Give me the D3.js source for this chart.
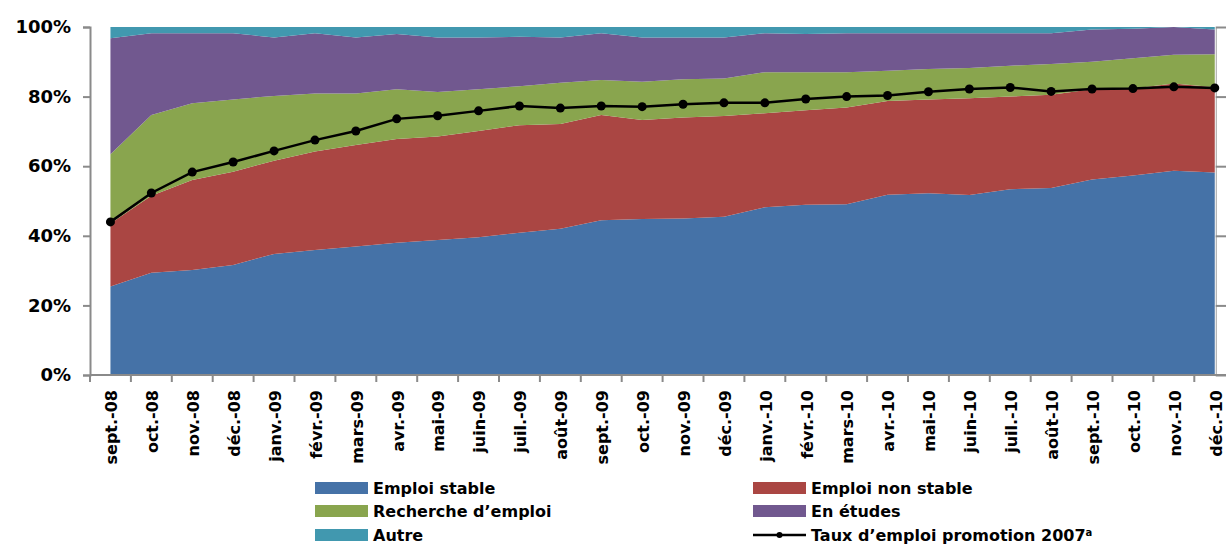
<!DOCTYPE html>
<html>
<head>
<meta charset="utf-8">
<script src="https://cdn.jsdelivr.net/npm/d3@7"></script>
<style>
  body { margin: 0; background: #fff; }
  text { font-family: "DejaVu Sans", sans-serif; font-weight: bold; fill: #000; }
</style>
</head>
<body>
<div id="chart"></div>
<script>
// mois (catégories)
var mois = ["sept.-08","oct.-08","nov.-08","déc.-08",
  "janv.-09","févr.-09","mars-09","avr.-09","mai-09","juin-09","juil.-09","août-09","sept.-09","oct.-09","nov.-09","déc.-09",
  "janv.-10","févr.-10","mars-10","avr.-10","mai-10","juin-10","juil.-10","août-10","sept.-10","oct.-10","nov.-10","déc.-10"];

// séries empilées (%)
var emploiStable = [25.4,29.4,30.2,31.6,34.8,35.9,36.9,38.0,38.8,39.6,40.9,42.0,44.5,44.8,45.0,45.5,48.2,48.9,49.1,51.8,52.2,51.7,53.4,53.7,56.2,57.3,58.7,58.2];
var emploiNonStable = [18.1,22.1,25.8,26.8,26.8,28.3,29.2,29.8,29.7,30.5,30.9,30.1,30.2,28.5,29.0,28.9,27.0,27.2,27.8,26.9,27.0,27.8,26.6,26.8,25.9,25.0,25.1,24.5];
var rechercheEmploi = [19.9,23.2,22.1,20.8,18.6,16.7,14.8,14.3,12.8,12.0,11.2,11.9,10.1,11.0,11.0,10.8,11.8,10.9,10.1,8.7,8.7,8.7,8.9,8.9,7.9,8.7,8.2,9.5];
var enEtudes = [33.4,23.5,20.1,19.0,16.8,17.3,16.1,15.9,15.7,14.9,14.2,13.0,13.4,12.7,12.0,11.8,11.2,11.0,11.2,10.8,10.3,10.0,9.3,8.8,9.3,8.5,8.0,7.1];
var autre = [3.2,1.8,1.8,1.8,3.0,1.8,3.0,2.0,3.0,3.0,2.8,3.0,1.8,3.0,3.0,3.0,1.8,2.0,1.8,1.8,1.8,1.8,1.8,1.8,0.7,0.5,0.0,0.7];

// taux d'emploi promotion 2007 (%)
var tauxEmploi = [44.0,52.3,58.3,61.2,64.4,67.5,70.1,73.6,74.5,75.9,77.3,76.7,77.3,77.1,77.8,78.2,78.2,79.3,80.0,80.3,81.4,82.2,82.6,81.5,82.2,82.3,82.8,82.5];

var yTicks = [0, 20, 40, 60, 80, 100];

var seriesNames = ["Emploi stable","Emploi non stable","Recherche d'emploi","En études","Autre"];
var seriesValues = [emploiStable, emploiNonStable, rechercheEmploi, enEtudes, autre];
var colors = ["#4572A7","#AA4643","#89A54E","#71588F","#4198AF"];

var width = 1226, height = 545;
var svg = d3.select("#chart").append("svg")
  .attr("width", width)
  .attr("height", height);

var plotLeft = 90, plotBottom = 375, plotTop = 27;
var step = 40.9;

var x = d3.scaleBand()
  .domain(mois)
  .range([plotLeft, plotLeft + step * mois.length])
  .padding(0);
var y = d3.scaleLinear()
  .domain([0, 100])
  .range([plotBottom, plotTop]);

var cx = function (m) { return x(m) + x.bandwidth() / 2; };

// table pour d3.stack
var table = mois.map(function (m, i) {
  var row = { mois: m };
  seriesNames.forEach(function (s, k) { row[s] = seriesValues[k][i]; });
  return row;
});
var stacked = d3.stack().keys(seriesNames)(table);

var area = d3.area()
  .x(function (d) { return cx(d.data.mois); })
  .y0(function (d) { return y(d[0]); })
  .y1(function (d) { return y(d[1]); });

svg.append("g").selectAll("path")
  .data(stacked)
  .enter()
  .append("path")
  .attr("d", area)
  .attr("fill", function (d, i) { return colors[i]; });

// axe gauche
var yAxis = svg.append("g")
  .attr("transform", "translate(" + plotLeft + ",0)")
  .call(d3.axisLeft(y).tickValues(yTicks).tickSize(7).tickPadding(12)
    .tickFormat(function (d) { return d + "%"; }));
yAxis.selectAll("text").style("font-size", "18px");
yAxis.selectAll("line, path").attr("stroke", "#8a8a8a").attr("stroke-width", 2);

// axe droit (sans étiquettes)
var xr = cx(mois[mois.length - 1]) + 1;
var yAxisR = svg.append("g")
  .attr("transform", "translate(" + xr + ",0)")
  .call(d3.axisRight(y).tickValues(yTicks).tickSize(12).tickFormat(""));
yAxisR.select("path").attr("stroke", "#a0a0a0").attr("stroke-width", 1);
yAxisR.selectAll("line").attr("stroke", "#8a8a8a").attr("stroke-width", 2);

// axe des x : graduations entre les catégories
var xAxis = svg.append("g")
  .attr("transform", "translate(0," + plotBottom + ")");
xAxis.append("line")
  .attr("x1", plotLeft).attr("x2", x.range()[1])
  .attr("stroke", "#8a8a8a").attr("stroke-width", 2);
xAxis.selectAll("line.tick")
  .data(mois.concat(["_end"]))
  .enter()
  .append("line")
  .attr("class", "tick")
  .attr("x1", function (d, i) { return plotLeft + i * x.bandwidth(); })
  .attr("x2", function (d, i) { return plotLeft + i * x.bandwidth(); })
  .attr("y1", 0).attr("y2", 7)
  .attr("stroke", "#8a8a8a").attr("stroke-width", 2);
xAxis.selectAll("text")
  .data(mois)
  .enter()
  .append("text")
  .attr("transform", function (d) { return "translate(" + (cx(d) + 1) + ",15) rotate(-90)"; })
  .attr("dy", "0.36em")
  .attr("text-anchor", "end")
  .style("font-size", "16px")
  .text(function (d) { return d; });

// courbe du taux d'emploi
var line = d3.line()
  .x(function (d, i) { return cx(mois[i]); })
  .y(function (d) { return y(d); });
svg.append("path")
  .datum(tauxEmploi)
  .attr("d", line)
  .attr("fill", "none")
  .attr("stroke", "#000")
  .attr("stroke-width", 2.5);
svg.selectAll("circle.pt")
  .data(tauxEmploi)
  .enter()
  .append("circle")
  .attr("class", "pt")
  .attr("cx", function (d, i) { return cx(mois[i]); })
  .attr("cy", function (d) { return y(d); })
  .attr("r", 4.5)
  .attr("fill", "#000");

// légende
var legendItems = [
  { name: "Emploi stable", color: colors[0], col: 0, row: 0 },
  { name: "Emploi non stable", color: colors[1], col: 1, row: 0 },
  { name: "Recherche d’emploi", color: colors[2], col: 0, row: 1 },
  { name: "En études", color: colors[3], col: 1, row: 1 },
  { name: "Autre", color: colors[4], col: 0, row: 2 }
];
var colX = [315, 753];
var rowY = [488, 511, 535];
var legend = svg.append("g");
legendItems.forEach(function (it) {
  legend.append("rect")
    .attr("x", colX[it.col]).attr("y", rowY[it.row] - 6)
    .attr("width", 53).attr("height", 12)
    .attr("fill", it.color);
  legend.append("text")
    .attr("x", colX[it.col] + 58).attr("y", rowY[it.row])
    .attr("dy", "0.36em")
    .style("font-size", "16px")
    .text(it.name);
});
legend.append("line")
  .attr("x1", colX[1]).attr("x2", colX[1] + 53)
  .attr("y1", rowY[2]).attr("y2", rowY[2])
  .attr("stroke", "#000").attr("stroke-width", 2.5);
legend.append("circle")
  .attr("cx", colX[1] + 26.5).attr("cy", rowY[2]).attr("r", 3)
  .attr("fill", "#000");
var lt = legend.append("text")
  .attr("x", colX[1] + 58).attr("y", rowY[2])
  .attr("dy", "0.36em")
  .style("font-size", "16px");
lt.append("tspan").text("Taux d’emploi promotion 2007");
lt.append("tspan").attr("dy", "-0.45em").style("font-size", "10px").text("a");
</script>
</body>
</html>
